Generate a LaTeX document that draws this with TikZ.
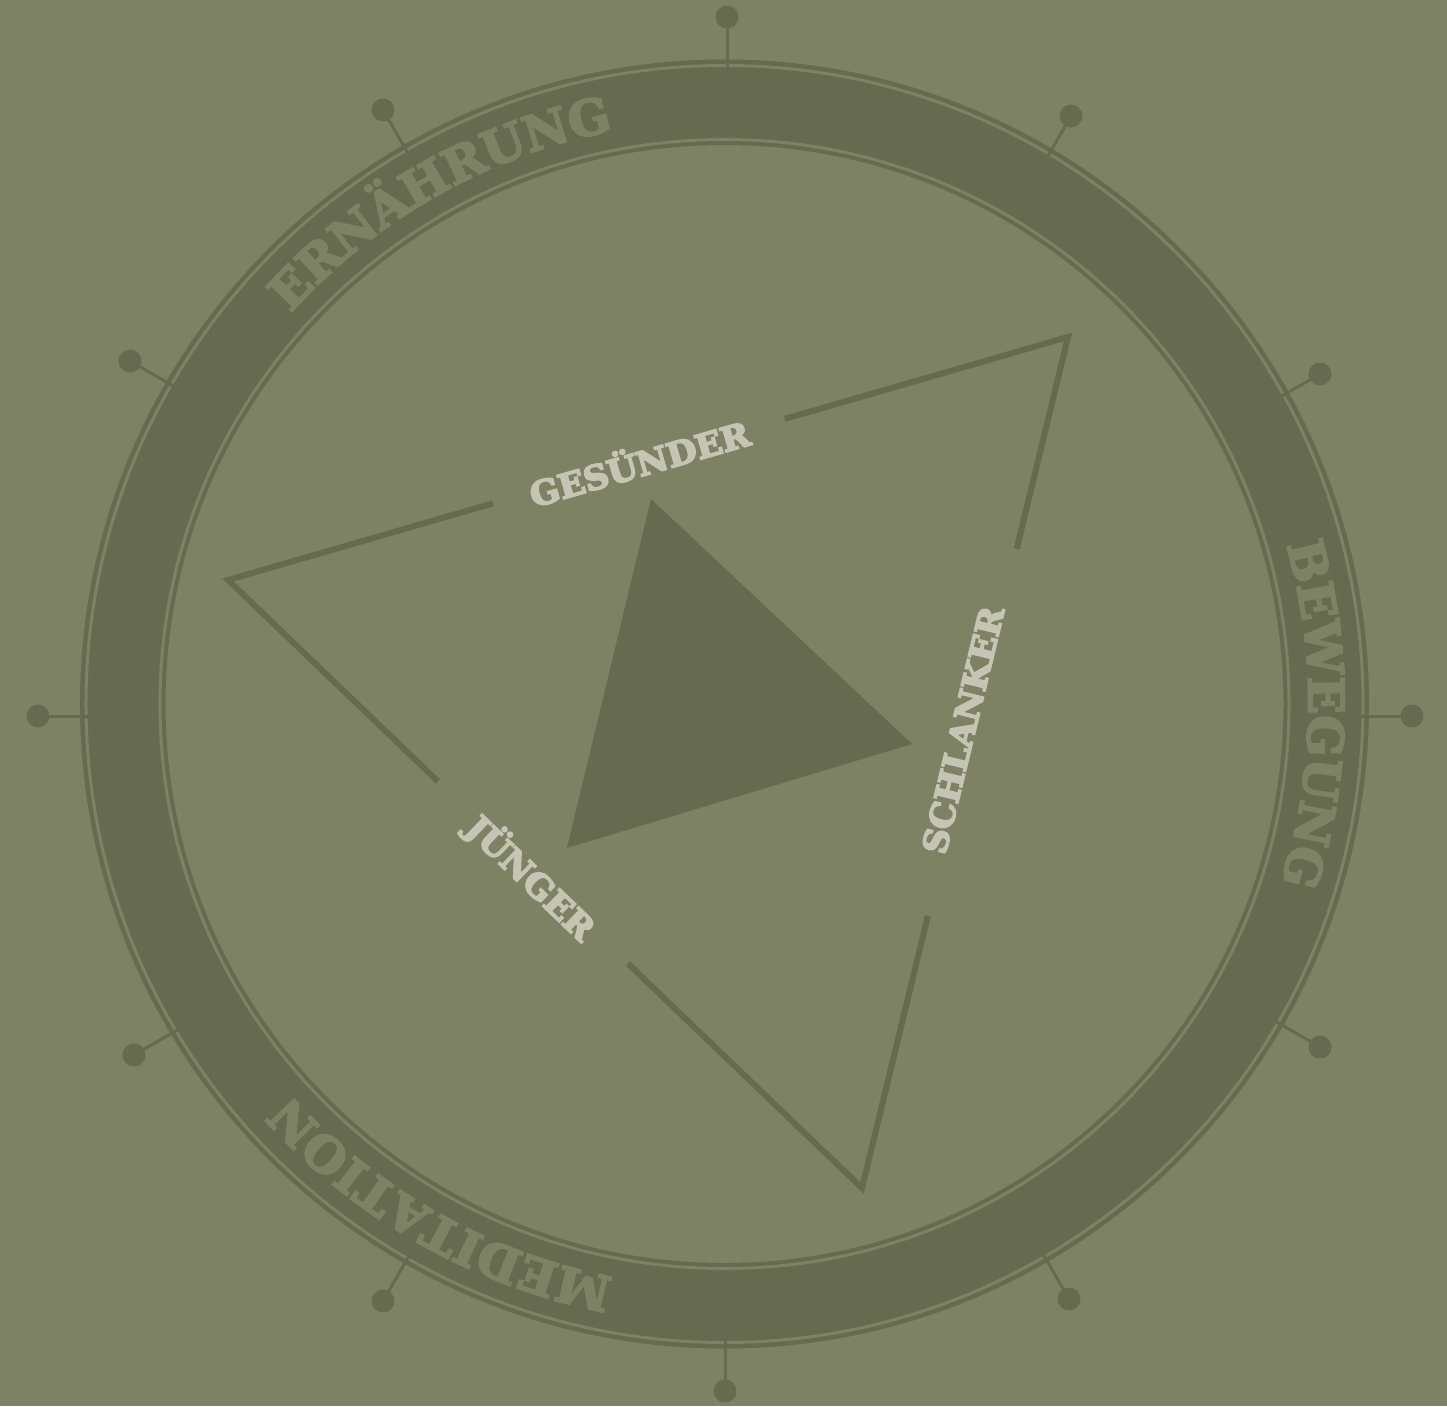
\documentclass[tikz,border=0pt]{standalone}
\usepackage{fontspec}
\setmainfont{DejaVu Serif}
\usetikzlibrary{calc,decorations.text}
\definecolor{bg}{HTML}{7D8264}
\definecolor{dk}{HTML}{666B4F}
\definecolor{lt}{HTML}{C6C5B4}
\newfontfamily\slabfont{DejaVu Serif Bold}[FakeStretch=1.03,FakeBold=5]
\newfontfamily\ringslab{DejaVu Serif Bold}[FakeStretch=1.0,FakeBold=4]
\newcommand\rngfmt{\ringslab\fontsize{49}{60}\selectfont\color{bg}}
\begin{document}
\begin{tikzpicture}[x=1pt,y=1pt,
  ringline/.style={draw=bg,line width=3pt},
  tickline/.style={draw=dk,line width=3pt},
  triline/.style={draw=dk,line width=6pt,line join=miter},
  lbl/.style={text=lt,font=\slabfont\fontsize{33.5}{40}\selectfont,inner sep=0pt}
]
\fill[bg] (-724.5,-702) rectangle (722.5,704);
\useasboundingbox (-724.5,-702) rectangle (722.5,704);
% ring
\coordinate (O) at (0,0);
\fill[dk,even odd rule] (O) circle[radius=644.5pt] (O) circle[radius=559pt];
\draw[ringline] (O) circle[radius=638.5pt];
\draw[ringline] (O) circle[radius=564.5pt];
% ticks
\foreach \x/\y/\a [count=\i] in {2.5/687/90, 346.5/588/60, 595.5/330/30, 687.5/-12/0,
  595.5/-343/-30, 344.5/-595/-60, 0.5/-687/-90, -341.5/-597/-120, -590.5/-351/-150,
  -686.5/-12/180, -594.5/343/150, -341.5/594/120} {
  \coordinate (dot\i) at (\x,\y);
  \coordinate (stem\i) at ($(dot\i)+(\a+180:55pt)$);
  \draw[tickline] (dot\i) -- (stem\i);
  \fill[dk] (dot\i) circle[radius=11.5pt];
}
% ring texts
\path[decorate,decoration={text along path,text align=center,text={|\rngfmt|ERNÄHRUNG}}]
  (179.5:584pt) arc[start angle=179.5,end angle=59.5,radius=584pt];
\path[decorate,decoration={text along path,text align=center,text={|\rngfmt|BEWEGUNG}}]
  (59:584pt) arc[start angle=59,end angle=-61,radius=584pt];
\path[decorate,decoration={text along path,text align=center,text={|\rngfmt|MEDITATION}}]
  (300.5:584pt) arc[start angle=300.5,end angle=180.5,radius=584pt];
% outer triangle
\coordinate (A) at (343.5,367);
\coordinate (B) at (-496.5,124);
\coordinate (C) at (137.5,-484);
\coordinate (g1) at ($(B)!0.3155!(A)$);
\coordinate (g2) at ($(B)!0.663!(A)$);
\coordinate (s1) at ($(A)!0.249!(C)$);
\coordinate (s2) at ($(A)!0.680!(C)$);
\coordinate (j1) at ($(B)!0.331!(C)$);
\coordinate (j2) at ($(B)!0.631!(C)$);
\draw[triline] (g1) -- (B) -- (j1);
\draw[triline] (g2) -- (A) -- (s1);
\draw[triline] (j2) -- (C) -- (s2);
% inner triangle
\coordinate (I1) at (-73.5,205);
\coordinate (I2) at (187.5,-40);
\coordinate (I3) at (-157.5,-144);
\fill[dk] (I1) -- (I2) -- (I3) -- cycle;
% labels
\node[lbl,rotate=16.13] (ges) at ($(B)!0.489!(A)$) {GESÜNDER};
\node[lbl,rotate=76.4] (sch) at (238.5,-26) {SCHLANKER};
\node[lbl,rotate=-43.8] (jun) at (-193.5,-174) {JÜNGER};
\end{tikzpicture}
\end{document}
